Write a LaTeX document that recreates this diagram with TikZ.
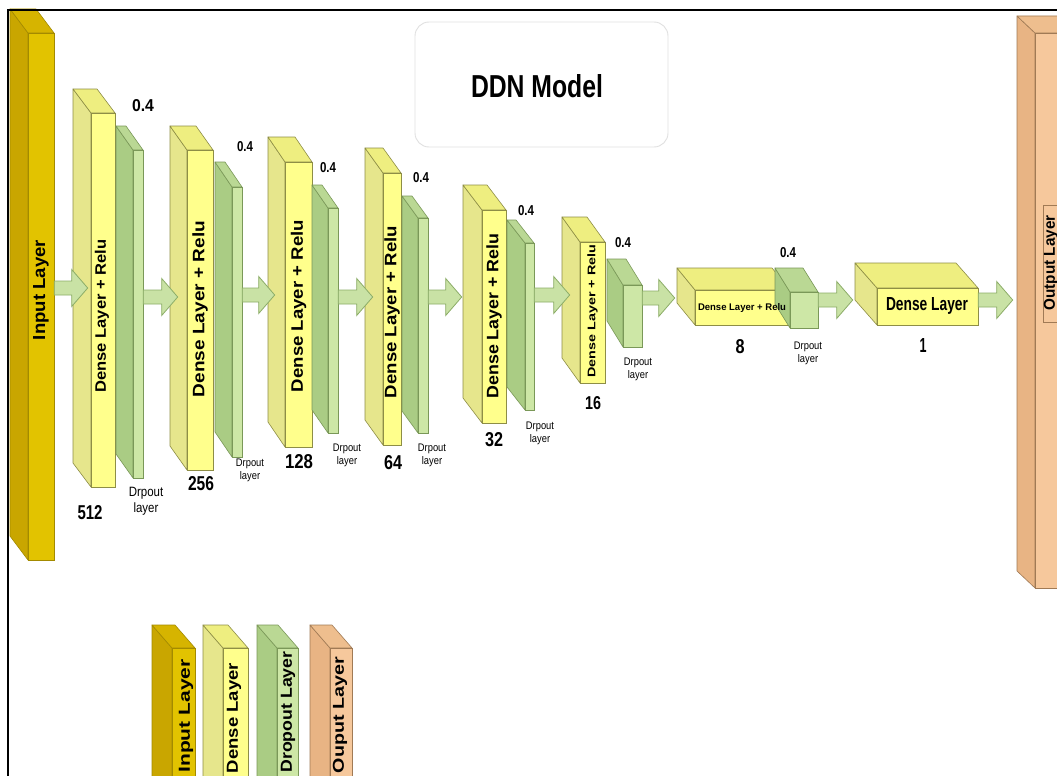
\documentclass[tikz,border=0pt]{standalone}
\usepackage{fontspec}
\setmainfont{Liberation Sans}
\usetikzlibrary{calc,fit}
\definecolor{inF}{HTML}{E2C300}\definecolor{inS}{HTML}{C9A600}\definecolor{inT}{HTML}{D6B400}\definecolor{inL}{HTML}{A38A00}
\definecolor{dnF}{HTML}{FFFF8C}\definecolor{dnS}{HTML}{E6E68C}\definecolor{dnT}{HTML}{EEEE80}\definecolor{dnL}{HTML}{8E8E46}
\definecolor{drF}{HTML}{CDE7A6}\definecolor{drS}{HTML}{AACC84}\definecolor{drT}{HTML}{BAD894}\definecolor{drL}{HTML}{7A9858}
\definecolor{ouF}{HTML}{F6C89C}\definecolor{ouS}{HTML}{E8B484}\definecolor{ouT}{HTML}{EEBE8E}\definecolor{ouL}{HTML}{A07A55}
\definecolor{arF}{HTML}{C9E2A5}\definecolor{arL}{HTML}{8CAD68}
\newcommand\layerbox[8]{%
 \filldraw[draw=#8L, fill=#8S, line width=0.6pt, line join=round] (#2,#3) -- (#2-#6,#3-#7) -- (#2-#6,#5-#7) -- (#2,#5) -- cycle;
 \filldraw[draw=#8L, fill=#8T, line width=0.6pt, line join=round] (#2,#3) -- (#2-#6,#3-#7) -- (#4-#6,#3-#7) -- (#4,#3) -- cycle;
 \node[draw=#8L, fill=#8F, line width=0.6pt, inner sep=0pt, fit={(#2,#3) (#4,#5)}] (#1) {};}
\newcommand\rtext[6]{\node[rotate=90, inner sep=0pt] (#1) at (#2,#3) {\resizebox{#4pt}{#5pt}{\bfseries #6}};}
\newcommand\htext[6]{\node[inner sep=0pt] (#1) at (#2,#3) {\resizebox{#4pt}{#5pt}{\bfseries #6}};}
\newcommand\barrow[4]{%
 \draw[blockarrow] let \p1=(#1.east), \p2=(#2.west), \p3=(0,#3) in
 (\x1,{\y3+7pt}) -- ({\x2-#4pt-16pt},{\y3+7pt}) -- ({\x2-#4pt-16pt},{\y3+18.5pt}) -- ({\x2-#4pt},\y3)
 -- ({\x2-#4pt-16pt},{\y3-18.5pt}) -- ({\x2-#4pt-16pt},{\y3-7pt}) -- (\x1,{\y3-7pt}) -- cycle;}
\tikzset{
 blockarrow/.style={draw=arL, fill=arF, line width=0.8pt, line join=miter},
 droplab/.style={inner sep=0pt, align=center, font=\fontsize{11}{13}\selectfont, xscale=0.85},
 frameline/.style={line width=1.8pt, black},
}
\begin{document}
\begin{tikzpicture}[x=1pt,y=-1pt]
\useasboundingbox (0,0) rectangle (1057,776);
\fill[white] (0,0) rectangle (1057,776);
% title
\node[draw=black!12, line width=0.9pt, rounded corners=14pt, minimum width=253pt, minimum height=125pt] (tbox) at (541.5,84.5) {};
\htext{title}{537}{86}{132}{23}{DDN Model}
% input layer
\layerbox{inp}{28}{33}{54}{560}{18}{24}{in}
\rtext{inptxt}{41}{290}{100}{12}{Input Layer}
% dense / dropout stack
\layerbox{d1}{91}{113}{115}{487}{18}{24}{dn}
\layerbox{p1}{133}{150}{143}{478}{17}{24}{dr}
\layerbox{d2}{187}{150}{213}{470}{17}{24}{dn}
\layerbox{p2}{232}{187}{242}{457}{17}{25}{dr}
\layerbox{d3}{285}{162}{312}{447}{17}{25}{dn}
\layerbox{p3}{328}{208}{338}{433}{16}{23}{dr}
\layerbox{d4}{383}{173}{401}{445}{18}{25}{dn}
\layerbox{p4}{418}{218}{428}{433}{16}{22}{dr}
\layerbox{d5}{482}{210}{506}{423}{19}{25}{dn}
\layerbox{p5}{525}{243}{534}{410}{18}{23}{dr}
\layerbox{d6}{580}{242}{605}{383}{18}{25}{dn}
\layerbox{p6}{623}{285}{642}{347}{16}{26}{dr}
\layerbox{d7}{695}{290}{790}{325}{18}{22}{dn}
\layerbox{p7}{790}{292}{818}{328}{15}{24}{dr}
\layerbox{d8}{877}{288}{978}{325}{22}{25}{dn}
\layerbox{out}{1035}{33}{1080}{588}{18}{17}{ou}
\node[draw=ouL, line width=0.6pt, inner sep=0pt, fit={(1043,205) (1080,322)}] (outin) {};
\rtext{outtxt}{1051}{263}{95}{11}{Output Layer}
% texts in dense layers
\rtext{t1}{102}{316}{153}{11}{Dense Layer + Relu}
\rtext{t2}{200}{309}{176}{12}{Dense Layer + Relu}
\rtext{t3}{298.5}{306}{172}{12}{Dense Layer + Relu}
\rtext{t4}{392}{312}{172}{12}{Dense Layer + Relu}
\rtext{t5}{494}{316}{165}{12}{Dense Layer + Relu}
\rtext{t6}{592.5}{311}{133}{8}{Dense Layer + Relu}
\htext{t7}{742}{308}{88}{7}{Dense Layer + Relu}
\htext{t8}{927}{306}{82}{13}{Dense Layer}
% arrows
\barrow{inp}{d1}{288}{3}
\barrow{p1}{d2}{297}{9}
\barrow{p2}{d3}{295}{10}
\barrow{p3}{d4}{297}{10}
\barrow{p4}{d5}{297}{20}
\barrow{p5}{d6}{295}{10}
\barrow{p6}{d7}{298}{20}
\barrow{p7}{d8}{300}{24}
\barrow{d8}{out}{300}{22}
% sizes
\htext{n1}{90}{513}{25}{14}{512}
\htext{n2}{201}{484}{26}{14}{256}
\htext{n3}{299}{462}{28}{14}{128}
\htext{n4}{393}{463}{18}{14}{64}
\htext{n5}{494}{440}{18}{14}{32}
\htext{n6}{593}{403}{16}{13}{16}
\htext{n7}{740}{347}{9}{14}{8}
\htext{n8}{923}{345}{7}{14}{1}
% dropout rates
\htext{r1}{143}{106}{22}{12}{0.4}
\htext{r2}{245}{147}{16}{10}{0.4}
\htext{r3}{328}{168}{16}{10}{0.4}
\htext{r4}{421}{178}{16}{10}{0.4}
\htext{r5}{526}{211}{16}{10}{0.4}
\htext{r6}{623}{243}{16}{10}{0.4}
\htext{r7}{788}{253}{16}{10}{0.4}
% dropout labels
\node[droplab, font=\fontsize{13.5}{16}\selectfont] (l1) at (146,501) {Drpout\\layer};
\node[droplab] (l2) at (250,470) {Drpout\\layer};
\node[droplab] (l3) at (347,455) {Drpout\\layer};
\node[droplab] (l4) at (432,455) {Drpout\\layer};
\node[droplab] (l5) at (540,433) {Drpout\\layer};
\node[droplab] (l6) at (638,369) {Drpout\\layer};
\node[droplab] (l7) at (808,353) {Drpout\\layer};
% legend
\layerbox{gin}{172}{648}{195}{800}{20}{23}{in}
\layerbox{gdn}{223}{648}{248}{800}{20}{23}{dn}
\layerbox{gdr}{277}{648}{298}{800}{20}{23}{dr}
\layerbox{gou}{330}{648}{352}{800}{20}{23}{ou}
\rtext{gt1}{186}{716}{113}{11}{Input Layer}
\rtext{gt2}{234}{718}{110}{11}{Dense Layer}
\rtext{gt3}{288}{712}{121}{11}{Dropout Layer}
\rtext{gt4}{340}{715}{116}{11}{Ouput Layer}
% frame
\draw[frameline] (8,776) -- (8,10) -- (1057,10);
\end{tikzpicture}
\end{document}
